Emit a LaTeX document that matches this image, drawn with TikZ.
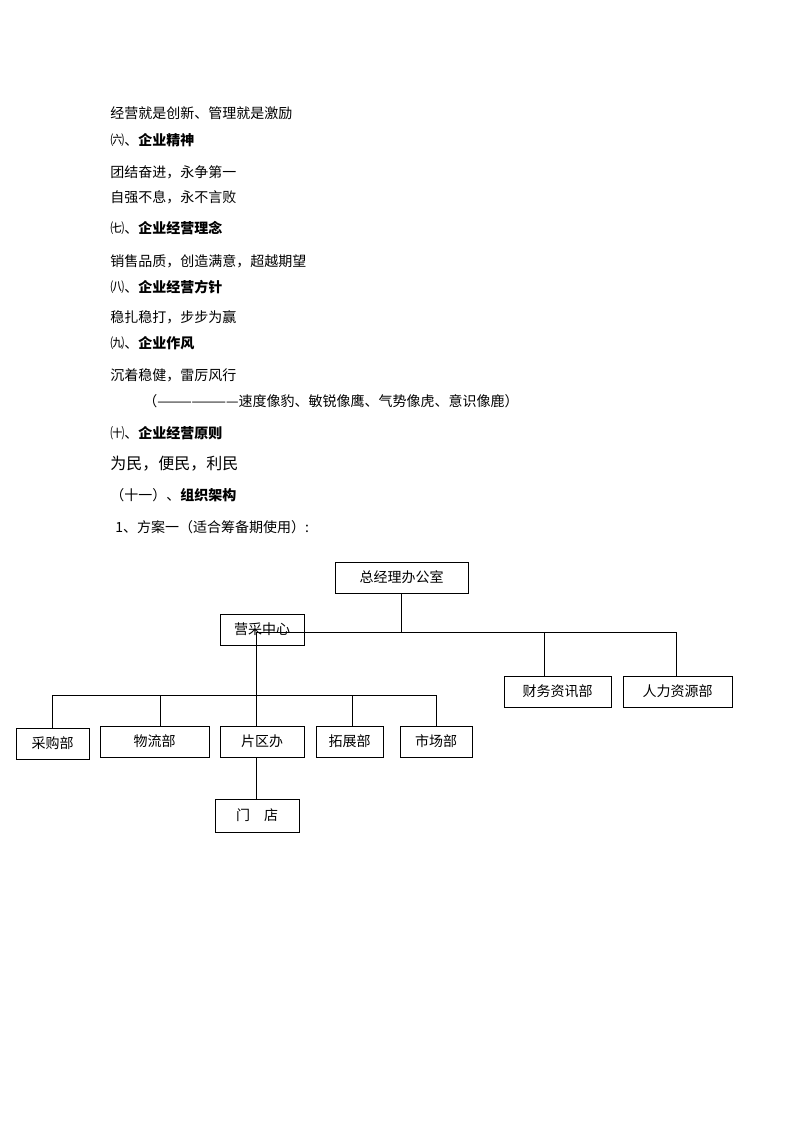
\documentclass[tikz,border=0pt]{standalone}
\usepackage{fontspec}
\setmainfont{Noto Sans CJK SC}
\usepackage{tikz}
\usetikzlibrary{positioning}
\tikzset{
	x=0.75pt, y=-0.75pt, % un pixel de la pagina
	line width=0.7pt, % lineas finas
	every node/.style={font=\fontsize{10.5pt}{12pt}\selectfont}, % tamano de letra
	linea/.style={anchor=west, inner sep=0pt}, % renglones de texto
	caja/.style={draw, inner sep=0pt, minimum height=23.25pt} % cajas del organigrama
}

\begin{document}
\begin{tikzpicture}
	\useasboundingbox (0,0) rectangle (794,1123);
	% texto
	\node[linea] (t1) at (110,113) {经营就是创新、管理就是激励};
	\node[linea] (t2) at (110,140) {㈥、\textbf{企业精神}};
	\node[linea] (t3) at (110,172) {团结奋进，永争第一};
	\node[linea] (t4) at (110,197) {自强不息，永不言败};
	\node[linea] (t5) at (110,228) {㈦、\textbf{企业经营理念}};
	\node[linea] (t6) at (110,261) {销售品质，创造满意，超越期望};
	\node[linea] (t7) at (110,287) {㈧、\textbf{企业经营方针}};
	\node[linea] (t8) at (110,317) {稳扎稳打，步步为赢};
	\node[linea] (t9) at (110,343) {㈨、\textbf{企业作风}};
	\node[linea] (t10) at (110,375) {沉着稳健，雷厉风行};
	\node[linea] (t11) at (143,401) {（———————速度像豹、敏锐像鹰、气势像虎、意识像鹿）};
	\node[linea] (t12) at (110,433) {㈩、\textbf{企业经营原则}};
	\node[linea, font=\fontsize{12pt}{14pt}\selectfont] (t13) at (110,464) {为民，便民，利民};
	\node[linea] (t14) at (110,495) {（十一）、\textbf{组织架构}};
	\node[linea] (t15) at (115,527) {1、方案一（适合筹备期使用）:};
	% organigrama
	\node[caja, minimum width=99.75pt] (zjl) at (401.5,577.5) {总经理办公室};
	\node[caja, minimum width=63pt] (ycz) at (262,629.5) {营采中心};
	\node[caja, minimum width=80.25pt] (cw) at (557.5,691.5) {财务资讯部};
	\node[caja, minimum width=81.75pt] (rl) at (677.5,691.5) {人力资源部};
	\node[caja, minimum width=54.75pt] (cg) at (52.5,743.5) {采购部};
	\node[caja, minimum width=81.75pt] (wl) at (154.5,741.5) {物流部};
	\node[caja, minimum width=63pt] (pq) at (262,741.5) {片区办};
	\node[caja, minimum width=50.25pt] (tz) at (349.5,741.5) {拓展部};
	\node[caja, minimum width=54pt] (sc) at (436,741.5) {市场部};
	\node[caja, minimum width=63pt, minimum height=24.75pt] (md) at (257,815.5) {门　店};
	% lineas
	\coordinate (r1) at (256,632);
	\coordinate (r2) at (676,632);
	\coordinate (r3) at (544,632);
	\coordinate (b1) at (52,695);
	\coordinate (b2) at (436,695);
	\draw (zjl.south) -- (zjl.south |- r1);
	\draw (r1) -- (r2) -- (r2 |- rl.north);
	\draw (r3) -- (r3 |- cw.north);
	\draw (r1) -- (r1 |- b1);
	\draw (b1) -- (b2);
	\foreach \d/\n in {52/cg, 160/wl, 256/pq, 352/tz, 436/sc}{
		\coordinate (d\n) at (\d,695);
		\draw (d\n) -- (d\n |- \n.north);
	}
	\draw (pq.south -| r1) -- (md.north -| r1);
\end{tikzpicture}
\end{document}
